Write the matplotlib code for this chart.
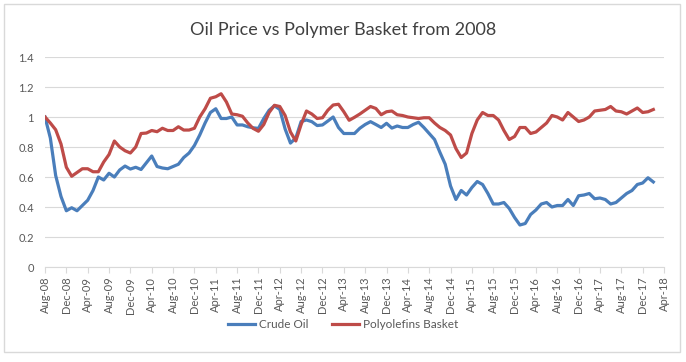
import matplotlib.pyplot as plt
from matplotlib.patches import Rectangle

## Data ---------------------------------------------

# monthly, Aug-08 .. Feb-18, indexed to 1.0 at Aug-08
crude_oil = [
    1.00, 0.86, 0.61, 0.47, 0.375, 0.395, 0.375, 0.41, 0.445, 0.51, 0.60, 0.58,
    0.625, 0.60, 0.647, 0.673, 0.653, 0.665, 0.65, 0.695, 0.74, 0.67, 0.66, 0.655,
    0.67, 0.685, 0.73, 0.76, 0.81, 0.88, 0.96, 1.03, 1.055, 0.99, 0.99, 1.00,
    0.947, 0.947, 0.935, 0.928, 0.924, 0.99, 1.045, 1.075, 1.05, 0.92, 0.826, 0.86,
    0.97, 0.98, 0.969, 0.943, 0.947, 0.973, 1.00, 0.93, 0.89, 0.89, 0.89, 0.925,
    0.95, 0.969, 0.95, 0.93, 0.958, 0.926, 0.94, 0.93, 0.93, 0.95, 0.965, 0.93,
    0.89, 0.85, 0.765, 0.685, 0.54, 0.45, 0.51, 0.48, 0.53, 0.57, 0.55, 0.49,
    0.42, 0.42, 0.43, 0.39, 0.33, 0.28, 0.29, 0.35, 0.38, 0.42, 0.43, 0.40,
    0.41, 0.41, 0.45, 0.41, 0.475, 0.48, 0.49, 0.455, 0.46, 0.45, 0.42, 0.43,
    0.46, 0.49, 0.51, 0.55, 0.56, 0.595, 0.567,
]
polyolefins = [
    1.00, 0.96, 0.915, 0.82, 0.665, 0.605, 0.63, 0.655, 0.655, 0.635, 0.635, 0.70,
    0.75, 0.84, 0.80, 0.775, 0.76, 0.80, 0.89, 0.893, 0.91, 0.902, 0.925, 0.91,
    0.91, 0.935, 0.913, 0.913, 0.925, 1.00, 1.055, 1.125, 1.135, 1.155, 1.10, 1.02,
    1.015, 1.005, 0.96, 0.924, 0.905, 0.95, 1.03, 1.078, 1.07, 1.01, 0.90, 0.84,
    0.95, 1.04, 1.02, 0.99, 0.995, 1.045, 1.08, 1.085, 1.035, 0.978, 0.998, 1.02,
    1.045, 1.07, 1.057, 1.015, 1.035, 1.04, 1.015, 1.01, 1.00, 0.995, 0.99, 0.995,
    0.995, 0.96, 0.93, 0.91, 0.88, 0.79, 0.73, 0.76, 0.89, 0.98, 1.03, 1.01,
    1.01, 0.98, 0.91, 0.85, 0.87, 0.93, 0.93, 0.89, 0.90, 0.93, 0.96, 1.01,
    1.00, 0.98, 1.03, 1.00, 0.97, 0.98, 1.00, 1.04, 1.045, 1.05, 1.07, 1.04,
    1.035, 1.02, 1.04, 1.06, 1.03, 1.035, 1.05,
]

month_names = ["Jan", "Feb", "Mar", "Apr", "May", "Jun",
               "Jul", "Aug", "Sep", "Oct", "Nov", "Dec"]
tick_months = list(range(0, 117, 4))   # Aug-08 .. Apr-18
tick_labels = [f"{month_names[(7 + m) % 12]}-{(2008 + (7 + m) // 12) % 100:02d}"
               for m in tick_months]
y_ticks = [0, 0.2, 0.4, 0.6, 0.8, 1.0, 1.2, 1.4]
y_labels = ["0", "0.2", "0.4", "0.6", "0.8", "1", "1.2", "1.4"]

## Plot ---------------------------------------------

plt.rcParams['font.family'] = ['Lato', 'DejaVu Sans']

fig = plt.figure(figsize=(6.86, 3.62), dpi=100)
ax = fig.add_axes([45 / 686, 95 / 362, 619 / 686, 210 / 362])

fig.patches.append(Rectangle((4 / 686, 10 / 362), 676 / 686, 348 / 362,
                             transform=fig.transFigure, fill=False,
                             edgecolor="#d9d9d9", linewidth=1))

x = list(range(len(crude_oil)))
ax.plot(x, crude_oil, color="#4a7ebb", linewidth=2.3, label="Crude Oil")
ax.plot(x, polyolefins, color="#be4b48", linewidth=2.3, label="Polyolefins Basket")

ax.set_xlim(0, 116)
ax.set_ylim(0, 1.4)
ax.set_yticks(y_ticks)
ax.set_yticklabels(y_labels, fontsize=8, color="#595959")
ax.set_xticks(tick_months)
ax.set_xticklabels(tick_labels, rotation=90, fontsize=8, color="#595959")
ax.tick_params(axis="y", length=0, pad=8)
ax.tick_params(axis="x", length=4, color="#d9d9d9", pad=3)

ax.grid(axis="y", color="#d9d9d9", linewidth=0.8)
ax.set_axisbelow(True)
for side in ["top", "right", "left"]:
    ax.spines[side].set_visible(False)
ax.spines["bottom"].set_color("#d9d9d9")

fig.text(0.5, 332 / 362, "Oil Price vs Polymer Basket from 2008",
         ha="center", va="center", fontsize=13, color="#404040")

fig.legend(loc="center", bbox_to_anchor=(0.5, 37 / 362), ncol=2, frameon=False,
           fontsize=8.5, handlelength=2.3, columnspacing=2.0, handletextpad=0.3,
           labelcolor="#595959")

fig.savefig("out.png", dpi=100)
